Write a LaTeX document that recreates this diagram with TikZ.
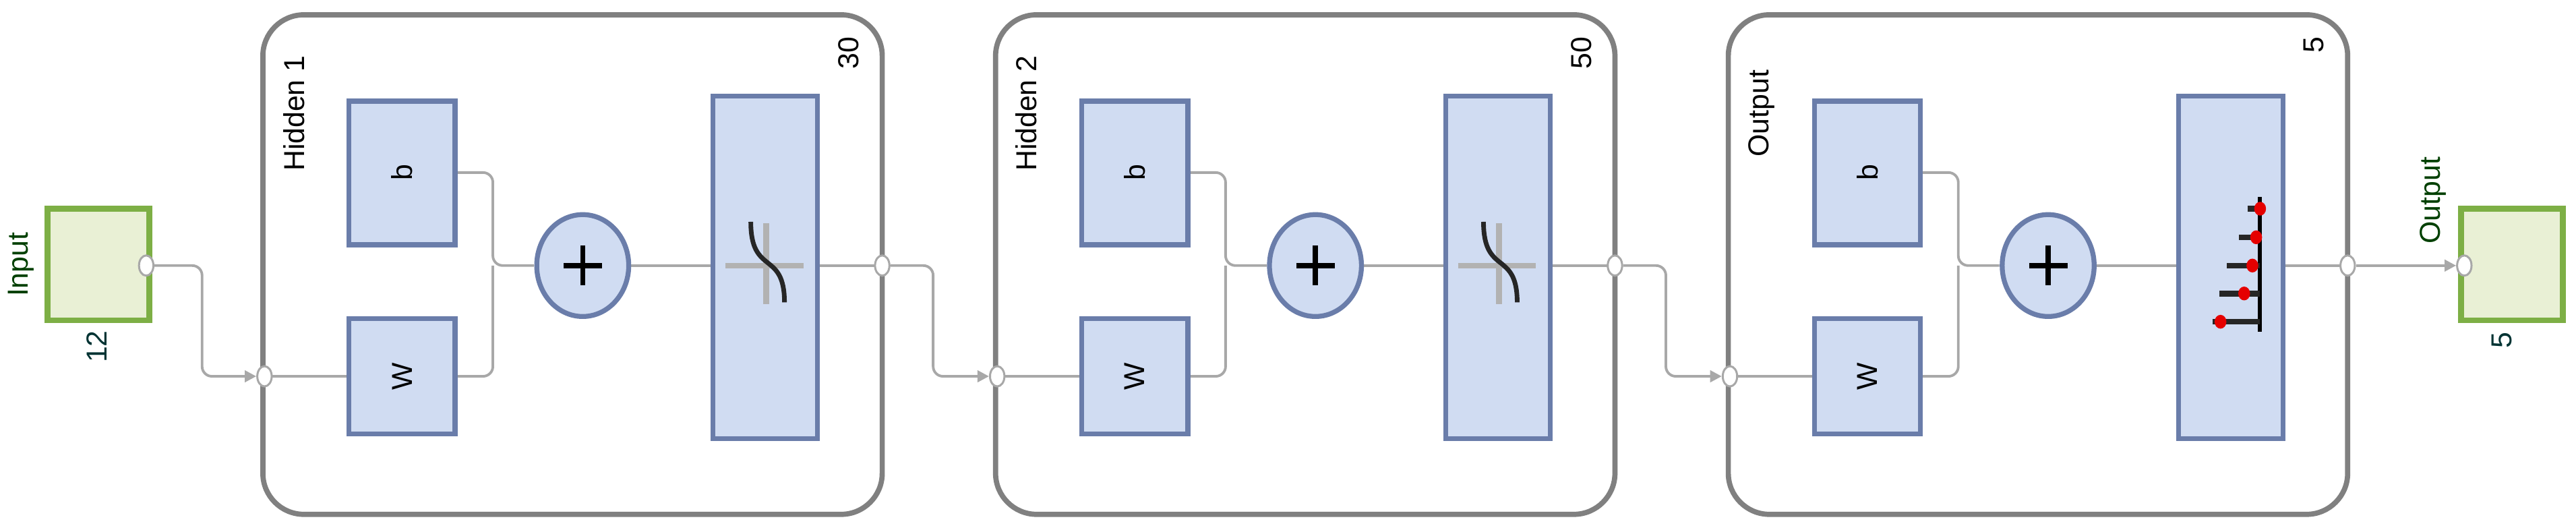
\documentclass[tikz,border=0pt]{standalone}
\usepackage{fontspec}
\setmainfont{Liberation Sans}
\usetikzlibrary{arrows.meta,shapes.geometric}
\definecolor{bfill}{HTML}{D0DCF2}
\definecolor{bdraw}{HTML}{6A7DAA}
\definecolor{gfill}{HTML}{E9F0D5}
\definecolor{gdraw}{HTML}{7DAF45}
\definecolor{lay}{HTML}{808080}
\definecolor{con}{HTML}{A8A8A8}
\begin{document}
\begin{tikzpicture}[x=0.02cm,y=-0.02cm,
  blk/.style={draw=bdraw,fill=bfill,line width=1.7pt},
  layer/.style={draw=lay,line width=1.8pt,rounded corners=0.5cm},
  io/.style={draw=gdraw,fill=gfill,line width=2pt},
  wire/.style={draw=con,line width=0.9pt,rounded corners=0.12cm},
  port/.style={draw=con,fill=white,line width=0.7pt,ellipse,minimum width=5,minimum height=7,inner sep=0pt},
  lbl/.style={font=\fontsize{10}{10}\selectfont,rotate=90,inner sep=0pt},
  arr/.style={-{Triangle[length=4pt,width=4pt]}}]
\useasboundingbox (0,0) rectangle (1568,321);
% input
\draw[io] (29,127) rectangle (91,195);
\node[lbl,text=black!75!green] (inl) at (13,161) {Input};
\node[lbl,text=black!60!teal] (inn) at (59,211) {12};
\node[port] (inp) at (89,161.6) {};
% layers
\foreach \i/\nm/\num in {0/Hidden 1/30,1/Hidden 2/50,2/Output/5}{
  \begin{scope}[xshift=\i*446*0.02cm]
  \draw[layer] (160,9) rectangle (537,313);
  \node[lbl,anchor=north] at (172,69) {\nm};
  \node[lbl,anchor=south east] at (523,22) {\num};
  \draw[wire] (161,229) -- (212.5,229);
  \draw[wire] (277,105) -| (300,161.6) -- (325,161.6);
  \draw[wire] (277,229) -| (300,161.6);
  \draw[wire] (384,161.6) -- (434,161.6);
  \draw[wire] (497.6,161.6) -- (537,161.6);
  \draw[blk] (212.5,61.5) rectangle (277,149);
  \draw[blk] (212.5,194) rectangle (277,264);
  \node[lbl] at (244.7,105) {b};
  \node[lbl] at (244.7,229) {W};
  \draw[blk] (354.7,161.6) ellipse [x radius=28,y radius=31];
  \draw[line width=1.8pt] (343,161.6) -- (366.5,161.6) (354.7,149.5) -- (354.7,173.5);
  \draw[blk] (434,58.6) rectangle (497.6,267);
  \end{scope}}
% tansig icons
\foreach \i in {0,1}{
  \begin{scope}[xshift=\i*446*0.02cm]
  \draw[gray!60,line width=2pt] (441.5,161.6) -- (489,161.6) (466.4,136) -- (466.4,185);
  \draw[line width=1.6pt,black!85] (457,135) .. controls (457,168) and (477.5,152) .. (477.5,184);
  \end{scope}}
% softmax icon
\draw[line width=1.4pt] (1375.7,120) -- (1375.7,202);
\foreach \y/\x/\d in {127/1368/1375.7,144.4/1363/1373.3,161.6/1355.5/1371,178.6/1351/1366,195.8/1346.6/1351.6}{
  \draw[line width=2pt,black!85] (\x,\y) -- (1375.7,\y);
  \fill[red!90!black] (\d,\y) ellipse [x radius=3.6,y radius=4.2];}
% ports on layers
\foreach \i in {0,1,2}{
  \node[port] (pi\i) at (161+\i*446,229) {};
  \node[port] (po\i) at (537+\i*446,161.6) {};}
% connections
\draw[wire,arr] (inp) -- (123,161.6) -- (123,229) -- (pi0);
\draw[wire,arr] (po0) -- (568,161.6) -- (568,229) -- (pi1);
\draw[wire,arr] (po1) -- (1014,161.6) -- (1014,229) -- (pi2);
% output
\draw[io] (1498,127) rectangle (1560,195);
\node[port] (outp) at (1500,161.6) {};
\draw[wire,arr] (po2) -- (outp);
\node[lbl,text=black!75!green] (outl) at (1481,122) {Output};
\node[lbl,text=black!60!teal] (outn) at (1523,207) {5};
\end{tikzpicture}
\end{document}
